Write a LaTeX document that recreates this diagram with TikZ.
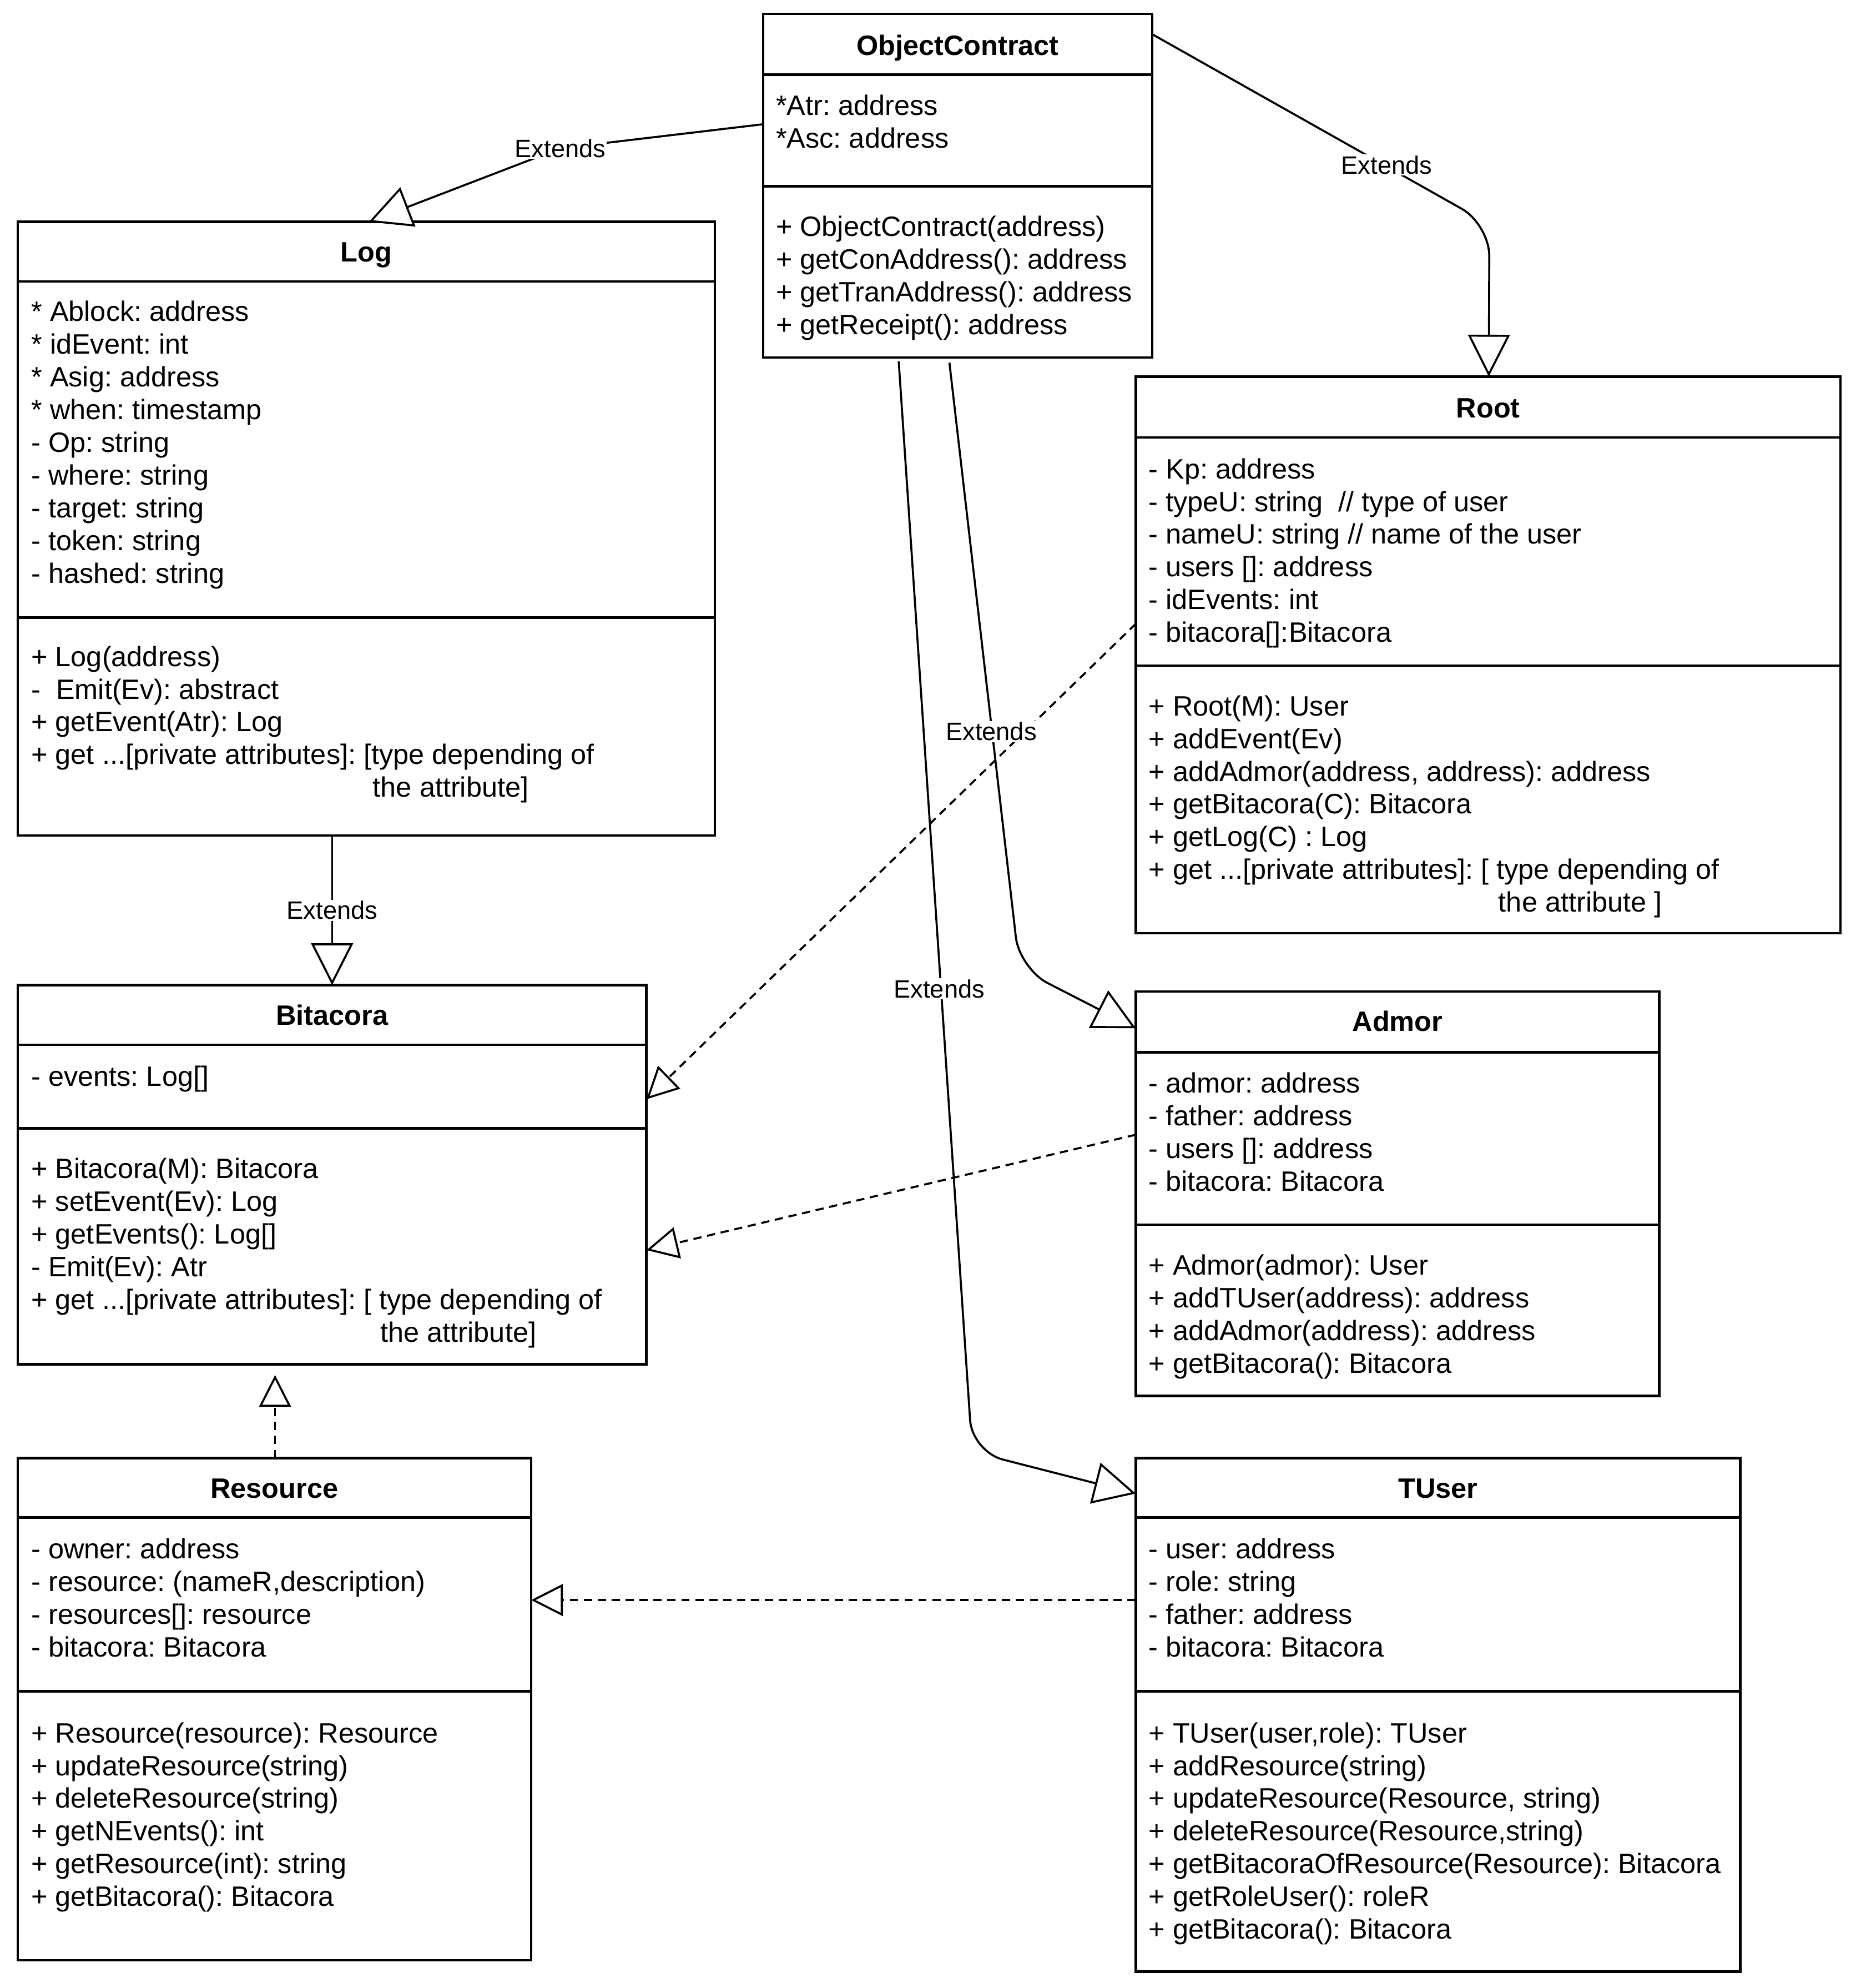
\documentclass[tikz,border=0pt]{standalone}
\usepackage{fontspec}
\setmainfont{Liberation Sans}
\usetikzlibrary{arrows.meta,calc}
\frenchspacing
\newcommand\bodyfont{\fontsize{22.1}{25.8}\selectfont\frenchspacing}
\newcommand\lblfont{\fontsize{19.8}{23}\selectfont}
\newcommand\threedots{...}
\newcommand\cltext[4]{\foreach \t [count=\i] in {#4} {\node[txt] (#1\i) at ({#2},{#3+25.8*(\i-1)}) {\t};}}
\begin{document}
\begin{tikzpicture}[x=1pt,y=-1pt,
  box/.style={draw, line width=2pt, inner sep=0pt, outer sep=0pt, anchor=north west, fill=white},
  sep/.style={line width=2pt},
  txt/.style={anchor=base west, inner sep=0pt, font=\bodyfont},
  ttl/.style={anchor=base, inner sep=0pt, font=\bodyfont\bfseries},
  lbl/.style={fill=white, inner sep=1pt, font=\lblfont},
  ext/.style={line width=1.6pt, rounded corners=25pt, -{Triangle[open, fill=white, length=33pt, width=33pt]}},
  realz/.style={line width=1.6pt, dash pattern=on 6.5pt off 4.5pt, -{Triangle[open, fill=white, length=25pt, width=25pt]}}]
\useasboundingbox (0,0) rectangle (1464,1568);
\fill[white] (0,0) rectangle (1464,1568);

% ObjectContract
\node[box, minimum width=307pt, minimum height=271pt] (oc) at (602,11) {};
\draw[sep] (oc.west |- 0,59) -- (oc.east |- 0,59);
\draw[sep] (oc.west |- 0,147) -- (oc.east |- 0,147);
\node[ttl] (oct) at (755.5,43.5) {ObjectContract};
\cltext{oca}{612}{91}{*Atr: address, *Asc: address}
\cltext{ocm}{612}{186.5}{+ ObjectContract(address), + getConAddress(): address, + getTranAddress(): address, + getReceipt(): address}

% Log
\node[box, minimum width=550pt, minimum height=484pt] (log) at (14,175) {};
\draw[sep] (log.west |- 0,222) -- (log.east |- 0,222);
\draw[sep] (log.west |- 0,487) -- (log.east |- 0,487);
\node[ttl] (logt) at (289,206.5) {Log};
\cltext{loga}{24.5}{253.5}{* Ablock: address, * idEvent: int, * Asig: address, * when: timestamp, - Op: string, - where: string, - target: string, - token: string, - hashed: string}
\cltext{logm}{24.5}{525.5}{+ Log(address), -~ Emit(Ev): abstract, + getEvent(Atr): Log, {+ get \threedots[private attributes]: [type depending of}}
\node[txt] (logm5) at (294,{525.5+25.8*4}) {the attribute]};

% Root
\node[box, minimum width=556pt, minimum height=439pt] (root) at (896,297) {};
\draw[sep] (root.west |- 0,345) -- (root.east |- 0,345);
\draw[sep] (root.west |- 0,525) -- (root.east |- 0,525);
\node[ttl] (roott) at (1174,329.5) {Root};
\cltext{roota}{906}{377.5}{- Kp: address, - typeU: string~ // type of user, - nameU: string // name of the user, - users []: address, - idEvents: int, - bitacora[]:Bitacora}
\cltext{rootm}{906}{564.5}{+ Root(M): User, + addEvent(Ev), {+ addAdmor(address, address): address}, + getBitacora(C): Bitacora, + getLog(C) : Log, {+ get \threedots[private attributes]: [ type depending of}}
\node[txt] (rootm7) at (1182,{564.5+25.8*6}) {the attribute ]};

% Bitacora
\node[box, minimum width=496pt, minimum height=299pt] (bit) at (14,777) {};
\draw[sep] (bit.west |- 0,824) -- (bit.east |- 0,824);
\draw[sep] (bit.west |- 0,890) -- (bit.east |- 0,890);
\node[ttl] (bitt) at (262,808.5) {Bitacora};
\cltext{bita}{24.5}{856.5}{- events: Log[]}
\cltext{bitm}{24.5}{929.5}{+ Bitacora(M): Bitacora, + setEvent(Ev): Log, + getEvents(): Log[], - Emit(Ev): Atr, {+ get \threedots[private attributes]: [ type depending of}}
\node[txt] (bitm6) at (300,{929.5+25.8*5}) {the attribute]};

% Admor
\node[box, minimum width=413pt, minimum height=319pt] (adm) at (896,782) {};
\draw[sep] (adm.west |- 0,830) -- (adm.east |- 0,830);
\draw[sep] (adm.west |- 0,966) -- (adm.east |- 0,966);
\node[ttl] (admt) at (1102.5,813.5) {Admor};
\cltext{adma}{906}{862}{- admor: address, - father: address, - users []: address, - bitacora: Bitacora}
\cltext{admm}{906}{1005.5}{+ Admor(admor): User, + addTUser(address): address, + addAdmor(address): address, + getBitacora(): Bitacora}

% Resource
\node[box, minimum width=405pt, minimum height=396pt] (res) at (14,1150) {};
\draw[sep] (res.west |- 0,1197) -- (res.east |- 0,1197);
\draw[sep] (res.west |- 0,1334) -- (res.east |- 0,1334);
\node[ttl] (rest) at (216.5,1181.5) {Resource};
\cltext{resa}{24.5}{1229.5}{- owner: address, {- resource: (nameR,description)}, - resources[]: resource, - bitacora: Bitacora}
\cltext{resm}{24.5}{1374.5}{+ Resource(resource): Resource, + updateResource(string), + deleteResource(string), + getNEvents(): int, + getResource(int): string, + getBitacora(): Bitacora}

% TUser
\node[box, minimum width=477pt, minimum height=405pt] (tu) at (896,1150) {};
\draw[sep] (tu.west |- 0,1197) -- (tu.east |- 0,1197);
\draw[sep] (tu.west |- 0,1334) -- (tu.east |- 0,1334);
\node[ttl] (tut) at (1134.5,1181.5) {TUser};
\cltext{tua}{906}{1229.5}{- user: address, - role: string, - father: address, - bitacora: Bitacora}
\cltext{tum}{906}{1374.5}{{+ TUser(user,role): TUser}, + addResource(string), {+ updateResource(Resource, string)}, {+ deleteResource(Resource,string)}, + getBitacoraOfResource(Resource): Bitacora, + getRoleUser(): roleR, + getBitacora(): Bitacora}

% connectors
\draw[ext, rounded corners=0pt] (oc.west |- 0,98) -- (442,117) -- (log.north -| 291,0);
\draw[ext] (oc.east |- 0,27) -- (1175,177) -- (root.north -| 1174.5,0);
\draw[ext] ($(oc.south -| 749,0)+(0,4)$) -- (804.3,764) -- (adm.west |- 0,811);
\draw[ext] ($(oc.south -| 709,0)+(0,3)$) -- (767,1145) -- (tu.west |- 0,1178);
\draw[ext] (log.south -| 262,0) -- (bit.north -| 262,0);
\draw[realz] (root.west |- 0,492) -- (bit.east |- 0,867);
\draw[realz] (adm.west |- 0,895) -- (bit.east |- 0,986);
\draw[realz] (res.north -| 217,0) -- ($(bit.south -| 217,0)+(0,8.5)$);
\draw[realz] (tu.west |- 0,1262) -- (res.east |- 0,1262);

% labels
\node[lbl] (l1) at (442,117) {Extends};
\node[lbl] (l2) at (1094,130) {Extends};
\node[lbl] (l3) at (782,577) {Extends};
\node[lbl] (l4) at (741,780) {Extends};
\node[lbl] (l5) at (262,718) {Extends};
\end{tikzpicture}
\end{document}
